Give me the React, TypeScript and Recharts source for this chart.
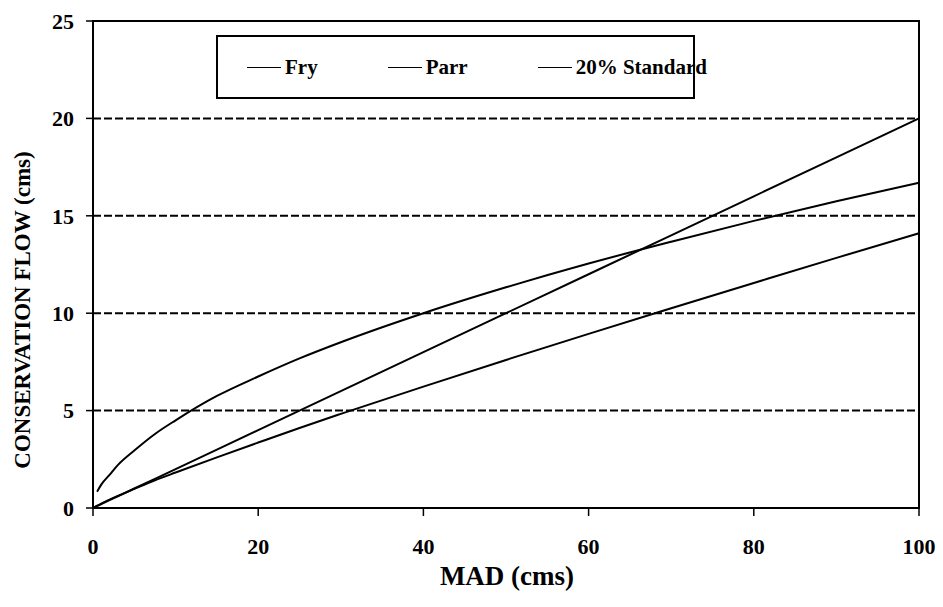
import React from 'react';
import {
  LineChart,
  Line,
  XAxis,
  YAxis,
  ReferenceLine,
  ReferenceArea,
  Legend,
} from 'recharts';

// MAD (cms) sample points
const madValues = [0, 0.5, 1, 2, 3, 5, 7.5, 10, 15, 20, 25, 30, 40, 50, 60, 70, 80, 90, 100];

// Conservation flow (cms) for each MAD value
const fryFlow = [0, 0.12, 0.23, 0.43, 0.62, 0.98, 1.42, 1.82, 2.6, 3.36, 4.11, 4.83, 6.23, 7.6, 8.94, 10.25, 11.55, 12.84, 14.1];
const parrFlow = [null, 0.84, 1.2, 1.7, 2.2, 2.95, 3.8, 4.5, 5.75, 6.75, 7.68, 8.51, 10.0, 11.33, 12.55, 13.67, 14.74, 15.75, 16.7];
const standardFlow = [0, 0.1, 0.2, 0.4, 0.6, 1.0, 1.5, 2, 3, 4, 5, 6, 8, 10, 12, 14, 16, 18, 20];

const seriesNames = ['Fry', 'Parr', '20% Standard'];
const xTicks = [0, 20, 40, 60, 80, 100];
const yTicks = [0, 5, 10, 15, 20, 25];
const gridLevels = [5, 10, 15, 20];

const data = madValues.map((mad, i) => ({
  mad,
  fry: fryFlow[i],
  parr: parrFlow[i],
  standard: standardFlow[i],
}));

const FONT = 'Liberation Serif';

const LegendBox = (props: any) => {
  const items = [...(props.payload || [])].sort(
    (a: any, b: any) => seriesNames.indexOf(a.value) - seriesNames.indexOf(b.value)
  );
  return (
    <div
      style={{
        boxSizing: 'border-box',
        width: 479,
        height: 64,
        border: '2px solid #000',
        background: '#fff',
        display: 'flex',
        alignItems: 'center',
        paddingLeft: 29,
        gap: 70,
        fontFamily: FONT,
        fontWeight: 'bold',
        fontSize: 21,
        color: '#000',
        whiteSpace: 'nowrap',
      }}
    >
      {items.map((it: any) => (
        <div key={it.value} style={{ display: 'flex', alignItems: 'center' }}>
          <span
            style={{
              display: 'inline-block',
              width: 34,
              height: 0,
              borderTop: '1.5px solid #000',
              marginRight: 4,
            }}
          />
          <span>{it.value}</span>
        </div>
      ))}
    </div>
  );
};

export default function App() {
  return (
    <div style={{ position: 'absolute', left: 0, top: 0, background: '#fff' }}>
      <LineChart
        width={943}
        height={607}
        data={data}
        margin={{ top: 21, right: 24, left: 0, bottom: 0 }}
      >
        {gridLevels.map((v) => (
          <ReferenceLine
            key={v}
            y={v}
            stroke="#000"
            strokeWidth={2}
            strokeDasharray="8 3"
          />
        ))}
        <ReferenceArea
          x1={0}
          x2={100}
          y1={0}
          y2={25}
          fill="none"
          stroke="#000"
          strokeWidth={2}
        />
        <XAxis
          dataKey="mad"
          type="number"
          domain={[0, 100]}
          ticks={xTicks}
          height={99}
          tickSize={8}
          tickMargin={22}
          axisLine={{ stroke: '#000', strokeWidth: 2 }}
          tickLine={{ stroke: '#000', strokeWidth: 1.5 }}
          tick={{ fill: '#000', fontFamily: FONT, fontWeight: 'bold', fontSize: 22 }}
          label={{
            content: () => (
              <text
                x={507}
                y={585}
                textAnchor="middle"
                fontFamily={FONT}
                fontWeight="bold"
                fontSize={27}
                fill="#000"
              >
                MAD (cms)
              </text>
            ),
          }}
        />
        <YAxis
          type="number"
          domain={[0, 25]}
          ticks={yTicks}
          width={93}
          tickSize={7}
          tickMargin={12}
          axisLine={{ stroke: '#000', strokeWidth: 2 }}
          tickLine={{ stroke: '#000', strokeWidth: 1.5 }}
          tick={{ fill: '#000', fontFamily: FONT, fontWeight: 'bold', fontSize: 22 }}
          label={{
            content: () => (
              <text
                x={0}
                y={0}
                transform="translate(30, 310) rotate(-90)"
                textAnchor="middle"
                fontFamily={FONT}
                fontWeight="bold"
                fontSize={23}
                fill="#000"
              >
                CONSERVATION FLOW (cms)
              </text>
            ),
          }}
        />
        <Legend
          layout="horizontal"
          verticalAlign="middle"
          align="center"
          content={<LegendBox />}
          wrapperStyle={{ left: 216, top: 35, width: 479, height: 64 }}
        />
        <Line
          name="Fry"
          dataKey="fry"
          type="monotone"
          stroke="#000"
          strokeWidth={2}
          dot={false}
          isAnimationActive={false}
        />
        <Line
          name="Parr"
          dataKey="parr"
          type="monotone"
          stroke="#000"
          strokeWidth={2}
          dot={false}
          isAnimationActive={false}
        />
        <Line
          name="20% Standard"
          dataKey="standard"
          type="linear"
          stroke="#000"
          strokeWidth={2}
          dot={false}
          isAnimationActive={false}
        />
      </LineChart>
    </div>
  );
}
